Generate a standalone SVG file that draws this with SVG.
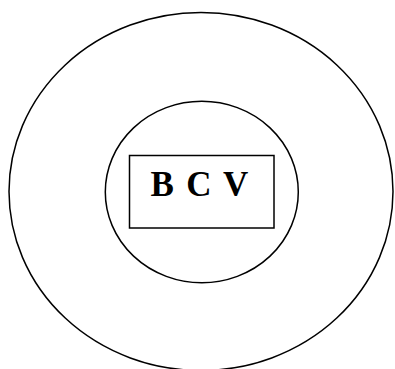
<svg xmlns="http://www.w3.org/2000/svg" width="395" height="369" viewBox="0 0 395 369">
<style>
.s{fill:none;stroke:#000;stroke-width:1.5}
.t{font-family:"Liberation Serif","Times New Roman",serif;font-weight:bold;font-size:35px;fill:#000;word-spacing:3.5px}
</style>
<rect width="395" height="369" fill="#fff"/>
<g id="outer"><ellipse class="s" cx="201" cy="191.5" rx="192" ry="179"/></g>
<g id="inner"><ellipse class="s" cx="201.8" cy="192" rx="96.5" ry="90.7"/></g>
<g id="bcv"><rect class="s" x="129.5" y="155.5" width="144.5" height="72.5"/>
<text class="t" x="199.5" y="195.5" text-anchor="middle">B C V</text></g>
<g id="connectors"/>
</svg>
